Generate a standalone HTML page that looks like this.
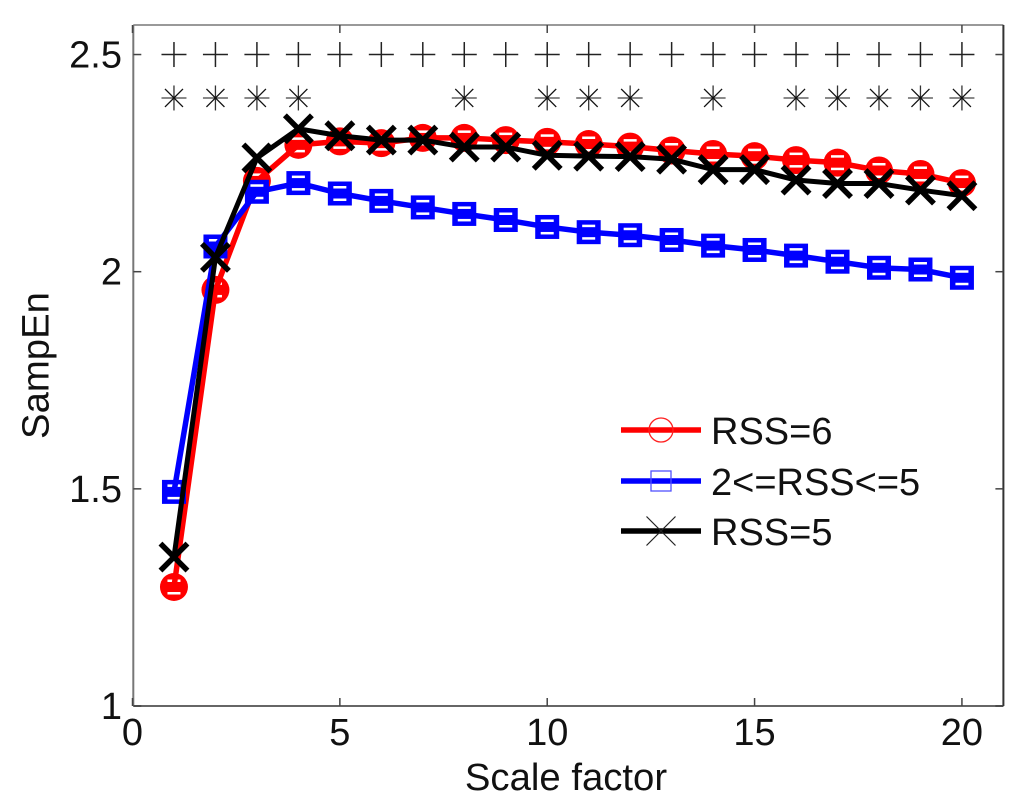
<!DOCTYPE html>
<html>
<head>
<meta charset="utf-8">
<style>
html,body{margin:0;padding:0;background:#fff;width:1024px;height:808px;overflow:hidden}
svg{display:block}
text{font-family:"Liberation Sans",sans-serif;fill:#111}
</style>
</head>
<body>
<svg id="chart" width="1024" height="808" viewBox="0 0 1024 808" xmlns="http://www.w3.org/2000/svg"></svg>
<script>
const scales = [1,2,3,4,5,6,7,8,9,10,11,12,13,14,15,16,17,18,19,20];
const rss6 = [1.274,1.958,2.209,2.292,2.300,2.296,2.308,2.308,2.303,2.299,2.294,2.288,2.279,2.271,2.266,2.257,2.251,2.233,2.225,2.204];
const rssMid = [1.493,2.058,2.184,2.204,2.180,2.163,2.148,2.133,2.119,2.103,2.091,2.084,2.073,2.060,2.050,2.037,2.023,2.009,2.005,1.986];
const rss5 = [1.343,2.033,2.262,2.329,2.313,2.303,2.303,2.287,2.287,2.268,2.266,2.265,2.259,2.235,2.235,2.211,2.203,2.203,2.188,2.175];
const plusScales = [1,2,3,4,5,6,7,8,9,10,11,12,13,14,15,16,17,18,19,20];
const plusLevel = 2.5;
const starScales = [1,2,3,4,8,10,11,12,14,16,17,18,19,20];
const starLevel = 2.4;
const xTicks = [0,5,10,15,20];
const yTicks = [1,1.5,2,2.5];
const yTickLabels = ["1","1.5","2","2.5"];
const legendLabels = ["RSS=6","2<=RSS<=5","RSS=5"];

const svg = document.getElementById('chart');
const NS = 'http://www.w3.org/2000/svg';
const plotLeft = 132.5, plotRight = 1003.4, plotBottom = 706, plotTop = 25;
const xMax = 21, yMin = 1, yMax = 2.568;
function xs(v){ return plotLeft + (v / xMax) * (plotRight - plotLeft); }
function ys(v){ return plotBottom - ((v - yMin) / (yMax - yMin)) * (plotBottom - plotTop); }
function mk(tag, attrs, parent){
  const e = document.createElementNS(NS, tag);
  for (const k in attrs) e.setAttribute(k, attrs[k]);
  (parent || svg).appendChild(e);
  return e;
}
function ln(x1,y1,x2,y2,stroke,w,parent){
  return mk('line',{x1:x1,y1:y1,x2:x2,y2:y2,stroke:stroke,'stroke-width':w},parent);
}

/* axes box */
const axisX = 133.3;
const axes = mk('g',{});


ln(axisX,plotTop,plotRight,plotTop,'#999',2,axes);
ln(axisX,plotTop,axisX,plotBottom,'#777',2,axes);
ln(axisX,plotBottom,plotRight,plotBottom,'#666',2,axes);
ln(plotRight,plotTop,plotRight,plotBottom,'#333',2,axes);

/* ticks and tick labels */
xTicks.forEach(function(t){
  const x = xs(t);
  ln(x,plotBottom,x,plotBottom-8,'#444',1.5,axes);
  ln(x,plotTop,x,plotTop+8,'#444',1.5,axes);
  const lab = mk('text',{x:x,y:745,'text-anchor':'middle','font-size':38});
  
  
  lab.textContent = String(t);
});
yTicks.forEach(function(t,i){
  const y = ys(t);
  ln(axisX,y,axisX+8,y,'#444',1.5,axes);
  ln(plotRight,y,plotRight-8,y,'#444',1.5,axes);
  const lab = mk('text',{x:122,y:y+13,'text-anchor':'end','font-size':38});
  
  
  lab.textContent = yTickLabels[i];
});

/* axis titles */
const xTitle = mk('text',{x:566,y:790,'text-anchor':'middle','font-size':38.3});


xTitle.textContent = 'Scale factor';
const yTitle = mk('text',{x:0,y:0,'text-anchor':'middle','font-size':38.3,transform:'translate(48.5,365.5) rotate(-90)'});


yTitle.textContent = 'SampEn';

/* significance markers */
const sig = mk('g',{});


plusScales.forEach(function(s){
  const x = xs(s), y = ys(plusLevel), h = 12.5;
  ln(x-h,y,x+h,y,'#222',1.5,sig);
  ln(x,y-h,x,y+h,'#222',1.5,sig);
});
starScales.forEach(function(s){
  const x = xs(s), y = ys(starLevel), h = 12.5, d = 9;
  ln(x-h,y,x+h,y,'#444',1.3,sig);
  ln(x,y-h,x,y+h,'#333',1.3,sig);
  ln(x-d,y-d,x+d,y+d,'#111',1.3,sig);
  ln(x-d,y+d,x+d,y-d,'#111',1.3,sig);
});

function drawCircle(g,x,y,r,w,color){ mk('circle',{cx:x,cy:y,r:r,fill:'none',stroke:color,'stroke-width':w},g); }
function drawSquare(g,x,y,h,w,color){ mk('rect',{x:x-h,y:y-h,width:2*h,height:2*h,fill:'none',stroke:color,'stroke-width':w},g); }
function drawCross(g,x,y,h,w,color){
  ln(x-h,y-h,x+h,y+h,color,w,g);
  ln(x-h,y+h,x+h,y-h,color,w,g);
}
function drawSlits(g,x,y){
  mk('rect',{x:x-6.5,y:y-7.5,width:13,height:2.5,fill:'#fff'},g);
  mk('rect',{x:x-6.5,y:y+5,width:13,height:2.5,fill:'#fff'},g);
}
function drawSeries(name,vals,color,lineW,marker){
  const g = mk('g',{});
  
  
  vals.forEach(function(v,i){ marker(g,xs(scales[i]),ys(v)); });
  const pts = vals.map(function(v,i){ return xs(scales[i]) + ',' + ys(v); }).join(' ');
  mk('polyline',{points:pts,fill:'none',stroke:color,'stroke-width':lineW,'stroke-linejoin':'round'},g);
}
drawSeries('series-rss-6',rss6,'#ff0000',5.5,function(g,x,y){
  mk('circle',{cx:x,cy:y,r:14,fill:'#ff0000'},g);
  drawSlits(g,x,y);
});
drawSeries('series-rss-2-to-5',rssMid,'#0000ff',5.5,function(g,x,y){
  mk('rect',{x:x-12,y:y-12,width:24,height:24,fill:'#0000ff'},g);
  drawSlits(g,x,y);
});
drawSeries('series-rss-5',rss5,'#000000',5,function(g,x,y){
  drawCross(g,x,y,13.5,5.5,'#000000');
});

/* legend */
const legendYs = [430,481,531];
const legendColors = ['#ff0000','#0000ff','#000000'];
const legendNames = ['legend-entry-rss-6','legend-entry-rss-2-to-5','legend-entry-rss-5'];
legendLabels.forEach(function(txt,i){
  const g = mk('g',{});
  
  
  const y = legendYs[i];
  ln(621,y,701,y,legendColors[i],5.5,g);
  if (i === 0) drawCircle(g,661,y,12,1.3,'#ff2020');
  if (i === 1) drawSquare(g,661,y,10,1.3,'#5050ff');
  if (i === 2) drawCross(g,661,y,14.5,1.2,'#222');
  const t = mk('text',{x:711,y:y+14,'font-size':38},g);
  t.textContent = txt;
});
</script>
</body>
</html>
